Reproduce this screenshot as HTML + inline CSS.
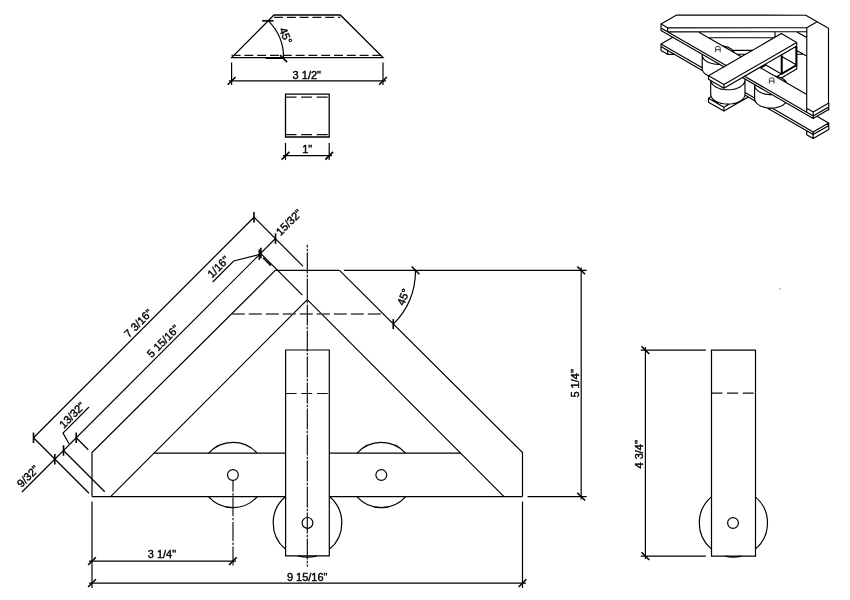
<!DOCTYPE html>
<html><head><meta charset="utf-8"><title>drawing</title>
<style>
html,body{margin:0;padding:0;background:#fff;}
body{width:850px;height:600px;overflow:hidden;font-family:"Liberation Sans",sans-serif;}
svg{display:block;filter:grayscale(1)}
.l{stroke:#000;stroke-width:1.2;fill:none;stroke-linecap:butt}
.h{stroke:#000;stroke-width:1.3;fill:none}
.k{stroke:#000;stroke-width:1.6;fill:none}
.k2{stroke:#000;stroke-width:1.5;fill:none}
.d{stroke:#111;stroke-width:1.3;fill:none;stroke-dasharray:9 3.8}
.d2{stroke:#111;stroke-width:1.2;fill:none;stroke-dasharray:11 4.6}
.d3{stroke:#444;stroke-width:1.3;fill:none;stroke-dasharray:13 4}
.c{stroke:#000;stroke-width:1.1;fill:none;stroke-dasharray:21 1.3 2.4 1.3;stroke-dashoffset:18.3}
.c2{stroke:#000;stroke-width:1.1;fill:none;stroke-dasharray:19 1.6 2.4 1.6;stroke-dashoffset:7.5}
.t{opacity:0.999;font-family:"Liberation Sans",sans-serif;font-size:11px;fill:#000;stroke:#000;stroke-width:0.4}
.i{stroke:#000;stroke-width:1.15;fill:none;stroke-linecap:round;stroke-linejoin:round}
.a{stroke:#222;stroke-width:0.9;fill:none}
</style></head><body>
<svg width="850" height="600" viewBox="0 0 850 600">
<rect width="850" height="600" fill="#fff"/>
<g><path class="h" d="M231.6,57.6 L274,15 L340.3,15 L383,57.6 Z"/>
<line class="d" x1="274.00" y1="17.40" x2="340.30" y2="17.40"/>
<line class="d" x1="231.60" y1="55.40" x2="383.00" y2="55.40"/>
<line class="l" x1="231.60" y1="62.50" x2="231.60" y2="85.00"/>
<line class="l" x1="383.00" y1="62.50" x2="383.00" y2="85.00"/>
<line class="l" x1="229.00" y1="80.90" x2="386.00" y2="80.90"/>
<line class="k" x1="227.71" y1="84.79" x2="235.49" y2="77.01"/>
<line class="k" x1="379.11" y1="84.79" x2="386.89" y2="77.01"/>
<text class="t" transform="translate(306.80,74.60) rotate(0)" text-anchor="middle" y="3.9">3 1/2&quot;</text>
<path class="l" d="M283.60,57.60 A52,52 0 0 0 268.37,20.83"/>
<line class="k" x1="265.50" y1="58.20" x2="283.60" y2="58.20"/>
<line class="k" x1="280.06" y1="55.06" x2="287.14" y2="62.14"/>
<line class="k" x1="262.12" y1="20.83" x2="273.62" y2="20.83"/>
<text class="t" transform="translate(285.80,35.60) rotate(67.5)" text-anchor="middle" y="3.9">45°</text>
<path class="h" d="M285.5,94.2 H329.2 V137 H285.5 Z"/>
<line class="d2" x1="285.50" y1="97.20" x2="329.20" y2="97.20"/>
<line class="d2" x1="285.50" y1="134.60" x2="329.20" y2="134.60"/>
<line class="l" x1="285.50" y1="143.00" x2="285.50" y2="160.00"/>
<line class="l" x1="329.20" y1="143.00" x2="329.20" y2="160.00"/>
<line class="l" x1="283.00" y1="155.70" x2="332.00" y2="155.70"/>
<line class="k" x1="281.61" y1="159.59" x2="289.39" y2="151.81"/>
<line class="k" x1="325.31" y1="159.59" x2="333.09" y2="151.81"/>
<text class="t" transform="translate(307.20,149.40) rotate(0)" text-anchor="middle" y="3.9">1&quot;</text>
<path class="l" d="M92,496.6 V452.6 L275.3,270.4 H339.5"/>
<path class="l" d="M339.5,270.4 L522.5,452.6 V496.6"/>
<line class="l" x1="344.00" y1="270.40" x2="586.70" y2="270.40"/>
<line class="l" x1="92.00" y1="496.60" x2="285.60" y2="496.60"/>
<line class="l" x1="329.30" y1="496.60" x2="522.50" y2="496.60"/>
<line class="l" x1="527.60" y1="496.60" x2="586.70" y2="496.60"/>
<line class="l" x1="307.30" y1="299.60" x2="110.60" y2="496.60"/>
<line class="l" x1="307.30" y1="299.60" x2="504.00" y2="496.60"/>
<line class="l" x1="153.70" y1="453.20" x2="285.60" y2="453.20"/>
<line class="l" x1="329.30" y1="453.20" x2="460.90" y2="453.20"/>
<path class="l" d="M285.6,555.9 V350 H329.3 V555.9 Z"/>
<line class="d2" x1="285.60" y1="393.50" x2="329.30" y2="393.50"/>
<line class="d3" x1="231.80" y1="314.00" x2="383.00" y2="314.00"/>
<path class="l" d="M208.66,453.20 A32.6,32.6 0 0 1 257.14,453.20"/>
<path class="l" d="M257.32,496.60 A32.6,32.6 0 0 1 208.48,496.60"/>
<circle class="l" cx="232.9" cy="475" r="5.4"/>
<path class="l" d="M357.06,453.20 A32.6,32.6 0 0 1 405.54,453.20"/>
<path class="l" d="M405.72,496.60 A32.6,32.6 0 0 1 356.88,496.60"/>
<circle class="l" cx="381.3" cy="475" r="5.4"/>
<path class="l" d="M285.60,549.30 A34.3,34.3 0 0 1 285.60,496.50"/>
<path class="l" d="M329.40,496.50 A34.3,34.3 0 0 1 329.40,549.30"/>
<path class="l" d="M316.85,555.90 A34.3,34.3 0 0 1 298.15,555.90"/>
<circle class="l" cx="307.5" cy="522.9" r="5.4"/>
<line class="c" x1="307.30" y1="244.80" x2="307.30" y2="566.80"/>
<line class="c2" x1="233.00" y1="480.20" x2="233.00" y2="565.50"/>
<line class="l" x1="581.20" y1="267.40" x2="581.20" y2="499.60"/>
<line class="k" x1="577.31" y1="266.51" x2="585.09" y2="274.29"/>
<line class="k" x1="577.31" y1="492.71" x2="585.09" y2="500.49"/>
<text class="t" transform="translate(575.00,383.40) rotate(-90)" text-anchor="middle" y="3.9">5 1/4&quot;</text>
<line class="l" x1="92.00" y1="501.50" x2="92.00" y2="588.00"/>
<line class="l" x1="522.50" y1="501.50" x2="522.50" y2="588.00"/>
<line class="l" x1="89.00" y1="583.10" x2="526.00" y2="583.10"/>
<line class="k" x1="88.11" y1="586.99" x2="95.89" y2="579.21"/>
<line class="k" x1="518.61" y1="586.99" x2="526.39" y2="579.21"/>
<text class="t" transform="translate(307.20,576.90) rotate(0)" text-anchor="middle" y="3.9">9 15/16&quot;</text>
<line class="l" x1="89.00" y1="561.10" x2="236.00" y2="561.10"/>
<line class="k" x1="88.11" y1="564.99" x2="95.89" y2="557.21"/>
<line class="k" x1="229.01" y1="564.99" x2="236.79" y2="557.21"/>
<text class="t" transform="translate(161.90,553.70) rotate(0)" text-anchor="middle" y="3.9">3 1/4&quot;</text>
<line class="l" x1="33.50" y1="437.75" x2="254.00" y2="217.25"/>
<line class="l" x1="22.00" y1="492.00" x2="275.50" y2="238.50"/>
<line class="l" x1="33.50" y1="437.75" x2="89.00" y2="493.25"/>
<line class="l" x1="63.50" y1="450.50" x2="104.75" y2="491.75"/>
<line class="l" x1="76.25" y1="437.75" x2="88.25" y2="449.75"/>
<line class="l" x1="254.00" y1="217.25" x2="303.10" y2="266.35"/>
<line class="l" x1="260.60" y1="253.40" x2="302.40" y2="295.20"/>
<line class="k2" x1="263.00" y1="257.80" x2="270.80" y2="265.60"/>
<line class="k" x1="33.50" y1="432.50" x2="33.50" y2="443.00"/>
<line class="k" x1="76.25" y1="432.50" x2="76.25" y2="443.00"/>
<line class="k" x1="63.50" y1="445.25" x2="63.50" y2="455.75"/>
<line class="k" x1="54.80" y1="454.05" x2="54.80" y2="464.55"/>
<line class="k" x1="254.00" y1="212.00" x2="254.00" y2="222.50"/>
<line class="k" x1="275.50" y1="233.35" x2="275.50" y2="243.85"/>
<line class="k" x1="259.30" y1="249.35" x2="259.30" y2="259.85"/>
<line class="k" x1="260.90" y1="247.75" x2="260.90" y2="258.25"/>
<text class="t" transform="translate(138.20,323.20) rotate(-45)" text-anchor="middle" y="3.9">7 3/16&quot;</text>
<text class="t" transform="translate(163.00,341.20) rotate(-45)" text-anchor="middle" y="3.9">5 15/16&quot;</text>
<text class="t" transform="translate(288.90,222.30) rotate(-45)" text-anchor="middle" y="3.9">15/32&quot;</text>
<text class="t" transform="translate(218.20,266.80) rotate(-45)" text-anchor="middle" y="3.9">1/16&quot;</text>
<text class="t" transform="translate(72.00,415.00) rotate(-45)" text-anchor="middle" y="3.9">13/32&quot;</text>
<text class="t" transform="translate(27.80,476.30) rotate(-45)" text-anchor="middle" y="3.9">9/32&quot;</text>
<path class="l" d="M212.7,282 L233.7,261 L259.3,254.5"/>
<path class="l" d="M89,407 L63,433 L69,443.8"/>
<path class="l" d="M415.50,270.40 A76,76 0 0 1 393.24,324.14"/>
<line class="k" x1="411.61" y1="266.51" x2="419.39" y2="274.29"/>
<line class="k" x1="393.24" y1="319.14" x2="393.24" y2="329.14"/>
<text class="t" transform="translate(403.20,297.00) rotate(-67.5)" text-anchor="middle" y="3.9">45°</text>
<path class="l" d="M711.5,350.1 H755.5 V556.1 H711.5 Z"/>
<line class="d2" x1="711.50" y1="393.20" x2="755.50" y2="393.20"/>
<path class="l" d="M711.50,549.14 A34.1,34.1 0 0 1 711.50,496.86"/>
<path class="l" d="M755.30,496.86 A34.1,34.1 0 0 1 755.30,549.14"/>
<path class="l" d="M741.60,556.10 A34.1,34.1 0 0 1 725.20,556.10"/>
<circle class="l" cx="733" cy="523" r="5.4"/>
<line class="l" x1="640.70" y1="350.10" x2="705.80" y2="350.10"/>
<line class="l" x1="640.70" y1="556.10" x2="705.80" y2="556.10"/>
<line class="l" x1="645.40" y1="347.00" x2="645.40" y2="559.00"/>
<line class="k" x1="641.51" y1="346.21" x2="649.29" y2="353.99"/>
<line class="k" x1="641.51" y1="552.21" x2="649.29" y2="559.99"/>
<text class="t" transform="translate(638.80,454.30) rotate(-90)" text-anchor="middle" y="3.9">4 3/4&quot;</text>
<rect x="779.3" y="288.4" width="1.1" height="1.1" fill="#666"/></g>
<path class="i" d="M676.6,15.0L805.8,15.2M805.8,15.2L817.1,21.8M817.1,21.8L806.8,27.7M806.8,27.7L667.6,27.8M806.8,31.7L667.6,31.8M806.8,27.7L806.8,31.7M667.6,27.8L661.0,24.0M667.6,31.8L661.0,28.0M667.6,27.8L667.6,31.8M661.0,24.0L676.6,15.0M661.0,24.0L661.0,28.0M817.1,21.8L828.5,28.3M828.5,28.3L828.5,103.0M828.8,104.3L828.8,107.0M828.5,28.3L828.5,30.9M828.8,103.0L813.2,112.0M828.8,107.0L813.2,116.0M828.8,103.0L828.8,107.0M813.2,112.0L806.7,108.2M813.2,116.0L806.7,112.2M813.2,112.0L813.2,116.0M806.7,108.2L806.8,27.7M806.7,112.2L806.8,31.7M806.7,108.2L806.7,112.2M806.8,27.7L817.1,21.8M806.8,27.7L806.8,31.7M781.3,33.6L796.7,42.5M796.7,42.5L723.9,84.6M796.7,46.1L723.9,88.2M796.7,42.5L796.7,46.1M723.9,84.6L708.5,75.7M723.9,88.2L708.5,79.3M723.9,84.6L723.9,88.2M708.5,75.7L781.3,33.6M708.5,75.7L708.5,79.3M698.1,31.7L741.4,56.7M759.8,67.4L806.8,94.5M828.6,107.1L813.2,116.0M828.6,109.6L813.2,118.5M828.6,107.1L828.6,109.6M813.2,116.0L744.5,76.2M726.1,65.6L661.0,28.0M813.2,118.5L742.4,77.5M723.8,66.8L661.0,30.5M813.2,116.0L813.2,118.5M661.0,28.0L661.0,30.5M806.6,37.5L796.5,31.7M806.6,56.1L796.8,50.4M775.0,31.6L775.0,37.2M796.7,46.1L781.4,55.0M796.7,65.1L781.4,74.0M796.7,46.1L796.7,65.1M781.4,74.0L765.9,65.1M781.4,55.0L781.4,74.0M765.9,63.9L765.9,65.1M702.2,54.9L702.2,68.4M754.6,85.2L754.6,98.7M710.7,80.5L710.7,94.2M745.0,79.9L745.0,94.2M816.9,116.3L828.6,123.1M828.6,123.1L813.2,132.0M828.6,125.7L813.2,134.6M828.6,123.1L828.6,125.7M813.2,132.0L772.0,108.1M754.6,98.1L745.0,92.5M702.2,67.8L661.0,44.0M813.2,134.6L766.8,107.7M755.1,101.0L745.0,95.1M702.7,70.7L661.0,46.6M813.2,132.0L813.2,134.6M661.0,44.0L672.8,37.2M661.0,44.0L661.0,46.6M708.3,37.6L774.0,37.8M752.2,50.3L732.7,50.4M803.5,54.2L796.6,54.2M745.6,54.2L737.2,54.3M674.5,54.3L667.6,54.3M667.6,50.4L661.0,46.6M667.6,54.3L661.0,50.5M667.6,50.4L667.6,54.3M661.0,46.6L661.0,50.5M828.7,107.0L828.7,110.0M828.7,122.9L828.7,125.6M828.8,126.8L828.8,129.5M828.8,125.6L813.2,134.6M828.8,129.5L813.2,138.5M828.8,125.6L828.8,129.5M813.2,134.6L806.7,130.8M813.2,138.5L806.7,134.7M813.2,134.6L813.2,138.5M806.7,134.7L806.7,130.8M806.7,130.8L806.7,134.7M796.7,65.1L777.0,76.5M729.4,104.0L723.9,107.2M796.7,69.0L781.2,78.0M748.3,97.0L723.9,111.1M796.7,65.1L796.7,69.0M723.9,107.2L708.5,98.3M723.9,111.1L708.5,102.2M723.9,107.2L723.9,111.1M708.5,98.3L711.3,96.6M760.8,68.0L766.0,65.0M708.5,98.3L708.5,102.2M796.7,65.1L781.3,56.2M719.5,64.3L717.4,64.3L715.3,64.1L713.2,63.8L711.2,63.3L709.4,62.7L707.7,61.9L706.2,61.1L704.9,60.1L703.8,59.0L703.0,57.9L702.5,56.7L702.2,55.5L702.2,54.2M722.7,45.8L724.7,46.2L726.6,46.7L728.4,47.4L730.0,48.2L731.4,49.1L732.6,50.2L733.5,51.3L734.2,52.4M708.5,75.8L706.9,75.0L705.5,74.1L704.3,73.1L703.4,72.0L702.7,70.8L702.3,69.6L702.2,68.4M772.0,94.6L769.9,94.6L767.7,94.4L765.7,94.1L763.7,93.6L761.9,93.0L760.2,92.3L758.7,91.4L757.4,90.4L756.3,89.4L755.5,88.2L754.9,87.0L754.7,85.8L754.7,84.6M775.1,76.1L777.2,76.5L779.1,77.0L780.8,77.7L782.4,78.5L783.9,79.5L785.0,80.5L786.0,81.6L786.7,82.7M782.4,105.4L780.8,106.2L779.1,106.8L777.2,107.4L775.1,107.8L773.0,108.0L770.9,108.1L768.8,108.0L766.7,107.8L764.7,107.4L762.8,106.8L761.0,106.2L759.4,105.4L758.0,104.4L756.8,103.4L755.9,102.3L755.2,101.1L754.8,99.9L754.6,98.7M785.5,102.9L784.5,103.9L783.2,104.9L782.4,105.4M740.0,86.9L738.3,87.8L736.5,88.5L734.5,89.1L732.3,89.5L730.1,89.7L727.9,89.8L725.7,89.7L723.5,89.5L721.3,89.1L719.3,88.5L717.5,87.8L715.8,86.9L714.3,85.9L713.0,84.9L712.1,83.7L711.3,82.5L710.9,81.2L710.8,80.5M745.0,79.2L745.0,80.5L744.7,81.8L744.1,83.1L743.3,84.3L742.2,85.4L740.8,86.4L740.0,86.9M740.0,101.2L738.3,102.1L736.5,102.8L734.5,103.4L732.3,103.8L730.1,104.0L727.9,104.1L725.7,104.0L723.5,103.8L721.3,103.4L719.3,102.8L717.5,102.1L715.8,101.2L714.3,100.2L713.0,99.2L712.1,98.0L711.3,96.8L710.9,95.5L710.7,94.2M745.0,94.2L744.9,95.5L744.5,96.8L743.7,98.0L742.7,99.2L741.5,100.2L740.0,101.2"/>
<path d="M781.8,55.6V73.7L796.3,65.3V46.6" fill="none" stroke="#000" stroke-width="1.9" stroke-linejoin="round"/>
<path class="a" d="M715.6,52.2V47.8Q715.6,46.6 716.8,46.6H719.0Q720.2,46.6 720.2,47.8V52.2M715.6,49.7H720.2"/>
<path class="a" d="M769.4,83.6V79.2Q769.4,78.0 770.6,78.0H772.8Q774.0,78.0 774.0,79.2V83.6M769.4,81.1H774.0"/>

</svg>
</body></html>
